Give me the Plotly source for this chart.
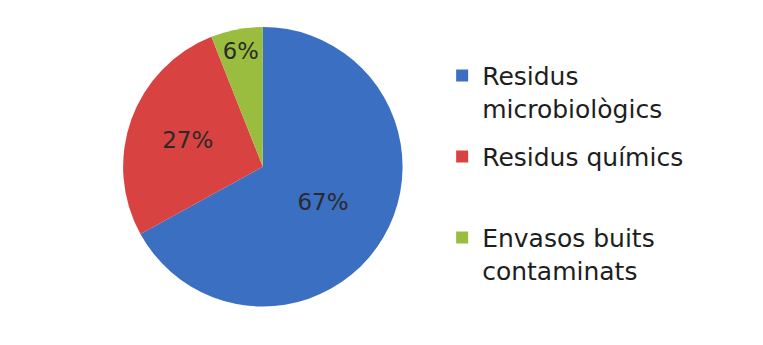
import plotly.graph_objects as go

categories = ["Residus<br>microbiològics", "Residus químics", "Envasos buits<br>contaminats"]
values = [67, 27, 6]
colors = ["#3a6fc2", "#d84342", "#9bbd3f"]
# extra blank line after an item to reproduce the original legend spacing
legend_pad = ["", "<br>&nbsp;", ""]

fig = go.Figure()
fig.add_trace(go.Pie(
    labels=categories,
    values=values,
    sort=False,
    direction="clockwise",
    rotation=0,
    marker=dict(colors=colors, line=dict(width=0)),
    textinfo="percent",
    texttemplate="%{percent:.0%}",
    textposition="inside",
    insidetextorientation="horizontal",
    textfont=dict(family="DejaVu Sans", size=23, color="#2a2a2a"),
    hoverinfo="label+percent",
    showlegend=False,
    domain=dict(x=[0.144, 0.524], y=[0.135, 0.945]),
))

for cat, col, pad in zip(categories, colors, legend_pad):
    fig.add_trace(go.Scatter(
        x=[None], y=[None], mode="markers",
        name=cat + pad,
        legendgroup=cat,
        marker=dict(symbol="square", size=12, color=col),
        hoverinfo="skip",
    ))

fig.update_layout(
    width=763, height=345,
    margin=dict(l=0, r=0, t=0, b=0),
    paper_bgcolor="white",
    plot_bgcolor="white",
    font=dict(family="DejaVu Sans", color="#222222"),
    xaxis=dict(visible=False),
    yaxis=dict(visible=False),
    legend=dict(
        x=0.569, y=0.87, xanchor="left", yanchor="top",
        font=dict(family="DejaVu Sans", size=25, color="#1e1e1e"),
        valign="top",
        itemwidth=30,
        tracegroupgap=13,
        bgcolor="rgba(0,0,0,0)",
    ),
    showlegend=True,
)

fig.write_html("out.html")
